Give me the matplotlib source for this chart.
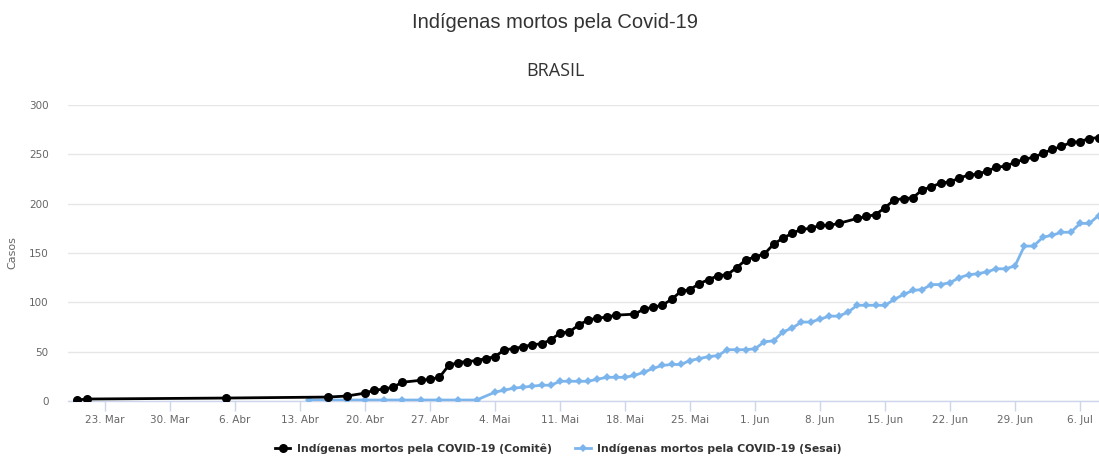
import matplotlib
matplotlib.use("Agg")
import matplotlib.pyplot as plt
import pandas as pd

# ---------------- data ----------------
comite_dates = [
    "2020-03-20", "2020-03-21", "2020-04-05", "2020-04-16", "2020-04-18",
    "2020-04-20", "2020-04-21", "2020-04-22", "2020-04-23", "2020-04-24",
    "2020-04-26", "2020-04-27", "2020-04-28", "2020-04-29", "2020-04-30",
    "2020-05-01", "2020-05-02", "2020-05-03", "2020-05-04", "2020-05-05",
    "2020-05-06", "2020-05-07", "2020-05-08", "2020-05-09", "2020-05-10",
    "2020-05-11", "2020-05-12", "2020-05-13", "2020-05-14", "2020-05-15",
    "2020-05-16", "2020-05-17", "2020-05-19", "2020-05-20", "2020-05-21",
    "2020-05-22", "2020-05-23", "2020-05-24", "2020-05-25", "2020-05-26",
    "2020-05-27", "2020-05-28", "2020-05-29", "2020-05-30", "2020-05-31",
    "2020-06-01", "2020-06-02", "2020-06-03", "2020-06-04", "2020-06-05",
    "2020-06-06", "2020-06-07", "2020-06-08", "2020-06-09", "2020-06-10",
    "2020-06-12", "2020-06-13", "2020-06-14", "2020-06-15", "2020-06-16",
    "2020-06-17", "2020-06-18", "2020-06-19", "2020-06-20", "2020-06-21",
    "2020-06-22", "2020-06-23", "2020-06-24", "2020-06-25", "2020-06-26",
    "2020-06-27", "2020-06-28", "2020-06-29", "2020-06-30", "2020-07-01",
    "2020-07-02", "2020-07-03", "2020-07-04", "2020-07-05", "2020-07-06",
    "2020-07-07", "2020-07-08",
]
comite_values = [
    1, 2, 3, 4, 5,
    8, 11, 12, 14, 19,
    21, 22, 24, 36, 39,
    40, 41, 43, 45, 52,
    53, 55, 57, 58, 62,
    69, 70, 77, 82, 84,
    85, 87, 88, 93, 95,
    97, 103, 111, 113, 119,
    123, 127, 128, 135, 143,
    146, 149, 159, 165, 170,
    174, 175, 178, 178, 180,
    185, 187, 189, 196, 204,
    205, 206, 214, 217, 221,
    222, 226, 229, 230, 233,
    237, 238, 242, 245, 247,
    251, 255, 258, 262, 263,
    266, 267,
]

sesai_dates = [
    "2020-04-14", "2020-04-16", "2020-04-18", "2020-04-20", "2020-04-22",
    "2020-04-24", "2020-04-26", "2020-04-28", "2020-04-30", "2020-05-02",
    "2020-05-04", "2020-05-05", "2020-05-06", "2020-05-07", "2020-05-08",
    "2020-05-09", "2020-05-10", "2020-05-11", "2020-05-12", "2020-05-13",
    "2020-05-14", "2020-05-15", "2020-05-16", "2020-05-17", "2020-05-18",
    "2020-05-19", "2020-05-20", "2020-05-21", "2020-05-22", "2020-05-23",
    "2020-05-24", "2020-05-25", "2020-05-26", "2020-05-27", "2020-05-28",
    "2020-05-29", "2020-05-30", "2020-05-31", "2020-06-01", "2020-06-02",
    "2020-06-03", "2020-06-04", "2020-06-05", "2020-06-06", "2020-06-07",
    "2020-06-08", "2020-06-09", "2020-06-10", "2020-06-11", "2020-06-12",
    "2020-06-13", "2020-06-14", "2020-06-15", "2020-06-16", "2020-06-17",
    "2020-06-18", "2020-06-19", "2020-06-20", "2020-06-21", "2020-06-22",
    "2020-06-23", "2020-06-24", "2020-06-25", "2020-06-26", "2020-06-27",
    "2020-06-28", "2020-06-29", "2020-06-30", "2020-07-01", "2020-07-02",
    "2020-07-03", "2020-07-04", "2020-07-05", "2020-07-06", "2020-07-07",
    "2020-07-08",
]
sesai_values = [
    1, 1, 1, 1, 1,
    1, 1, 1, 1, 1,
    9, 11, 13, 14, 15,
    16, 16, 20, 20, 20,
    20, 22, 24, 24, 24,
    26, 29, 33, 36, 37,
    37, 41, 43, 45, 46,
    52, 52, 52, 53, 60,
    61, 70, 74, 80, 80,
    83, 86, 86, 90, 97,
    97, 97, 97, 103, 108,
    112, 113, 118, 118, 120,
    125, 128, 129, 131, 134,
    134, 137, 157, 157, 166,
    168, 171, 171, 180, 180,
    188,
]

tick_dates = [
    "2020-03-23", "2020-03-30", "2020-04-06", "2020-04-13", "2020-04-20",
    "2020-04-27", "2020-05-04", "2020-05-11", "2020-05-18", "2020-05-25",
    "2020-06-01", "2020-06-08", "2020-06-15", "2020-06-22", "2020-06-29",
    "2020-07-06",
]
tick_labels = [
    "23. Mar", "30. Mar", "6. Abr", "13. Abr", "20. Abr", "27. Abr",
    "4. Mai", "11. Mai", "18. Mai", "25. Mai", "1. Jun", "8. Jun",
    "15. Jun", "22. Jun", "29. Jun", "6. Jul",
]
y_ticks = [0, 50, 100, 150, 200, 250, 300]

title = "Indígenas mortos pela Covid-19"
subtitle = "BRASIL"
y_label = "Casos"
name_comite = "Indígenas mortos pela COVID-19 (Comitê)"
name_sesai = "Indígenas mortos pela COVID-19 (Sesai)"

# ---------------- figure ----------------
W, H = 1099, 458
fig = plt.figure(figsize=(W / 100, H / 100), dpi=100)
fig.patch.set_facecolor("white")

left, right, top, bottom = 68, 1099, 105, 401
ax = fig.add_axes([left / W, (H - bottom) / H, (right - left) / W, (bottom - top) / H])

cd = pd.to_datetime(comite_dates)
sd = pd.to_datetime(sesai_dates)

ax.plot(sd, sesai_values, color="#7cb5ec", linewidth=2, marker="D",
        markersize=4.2, markeredgewidth=0, label=name_sesai, zorder=3)
ax.plot(cd, comite_values, color="#000000", linewidth=2, marker="o",
        markersize=6.5, markeredgewidth=0, label=name_comite, zorder=4)

ax.set_ylim(0, 300)
ax.set_xlim(pd.Timestamp("2020-03-19 00:00"), pd.Timestamp("2020-07-08 01:00"))

ax.set_yticks(y_ticks)
ax.set_yticklabels([str(v) for v in y_ticks])
ax.yaxis.grid(True, color="#e6e6e6", linewidth=1)
ax.set_axisbelow(True)

ax.set_xticks(pd.to_datetime(tick_dates))
ax.set_xticklabels(tick_labels)

for s in ["top", "right", "left"]:
    ax.spines[s].set_visible(False)
ax.spines["bottom"].set_color("#ccd6eb")
ax.spines["bottom"].set_linewidth(1)

ax.tick_params(axis="y", length=0, pad=14, labelsize=7.5, labelcolor="#666666")
ax.tick_params(axis="x", length=7, width=1, color="#ccd6eb", pad=3,
               labelsize=7.5, labelcolor="#666666")
for lab in ax.get_xticklabels() + ax.get_yticklabels():
    lab.set_fontfamily("DejaVu Sans")

ax.set_ylabel(y_label, color="#666666", fontsize=8, labelpad=10,
              fontfamily="DejaVu Sans")
ax.yaxis.set_label_coords(-(68 - 17) / (right - left), 0.5)

fig.text(0.505, 1 - 22 / H, title, ha="center", va="center", fontsize=14.5,
         color="#333333", fontfamily="Liberation Sans")
fig.text(0.505, 1 - 71 / H, subtitle, ha="center", va="center", fontsize=13,
         color="#333333", fontfamily="Open Sans")

handles, labels = ax.get_legend_handles_labels()
leg = fig.legend(handles[::-1], labels[::-1], loc="center",
                 bbox_to_anchor=(0.508, 1 - 449 / H), ncol=2, frameon=False,
                 prop={"family": "DejaVu Sans", "weight": "bold", "size": 7.8},
                 handlelength=1.4, handletextpad=0.6, columnspacing=2.2)
for t in leg.get_texts():
    t.set_color("#333333")

fig.savefig("out.png", dpi=100, facecolor="white")
